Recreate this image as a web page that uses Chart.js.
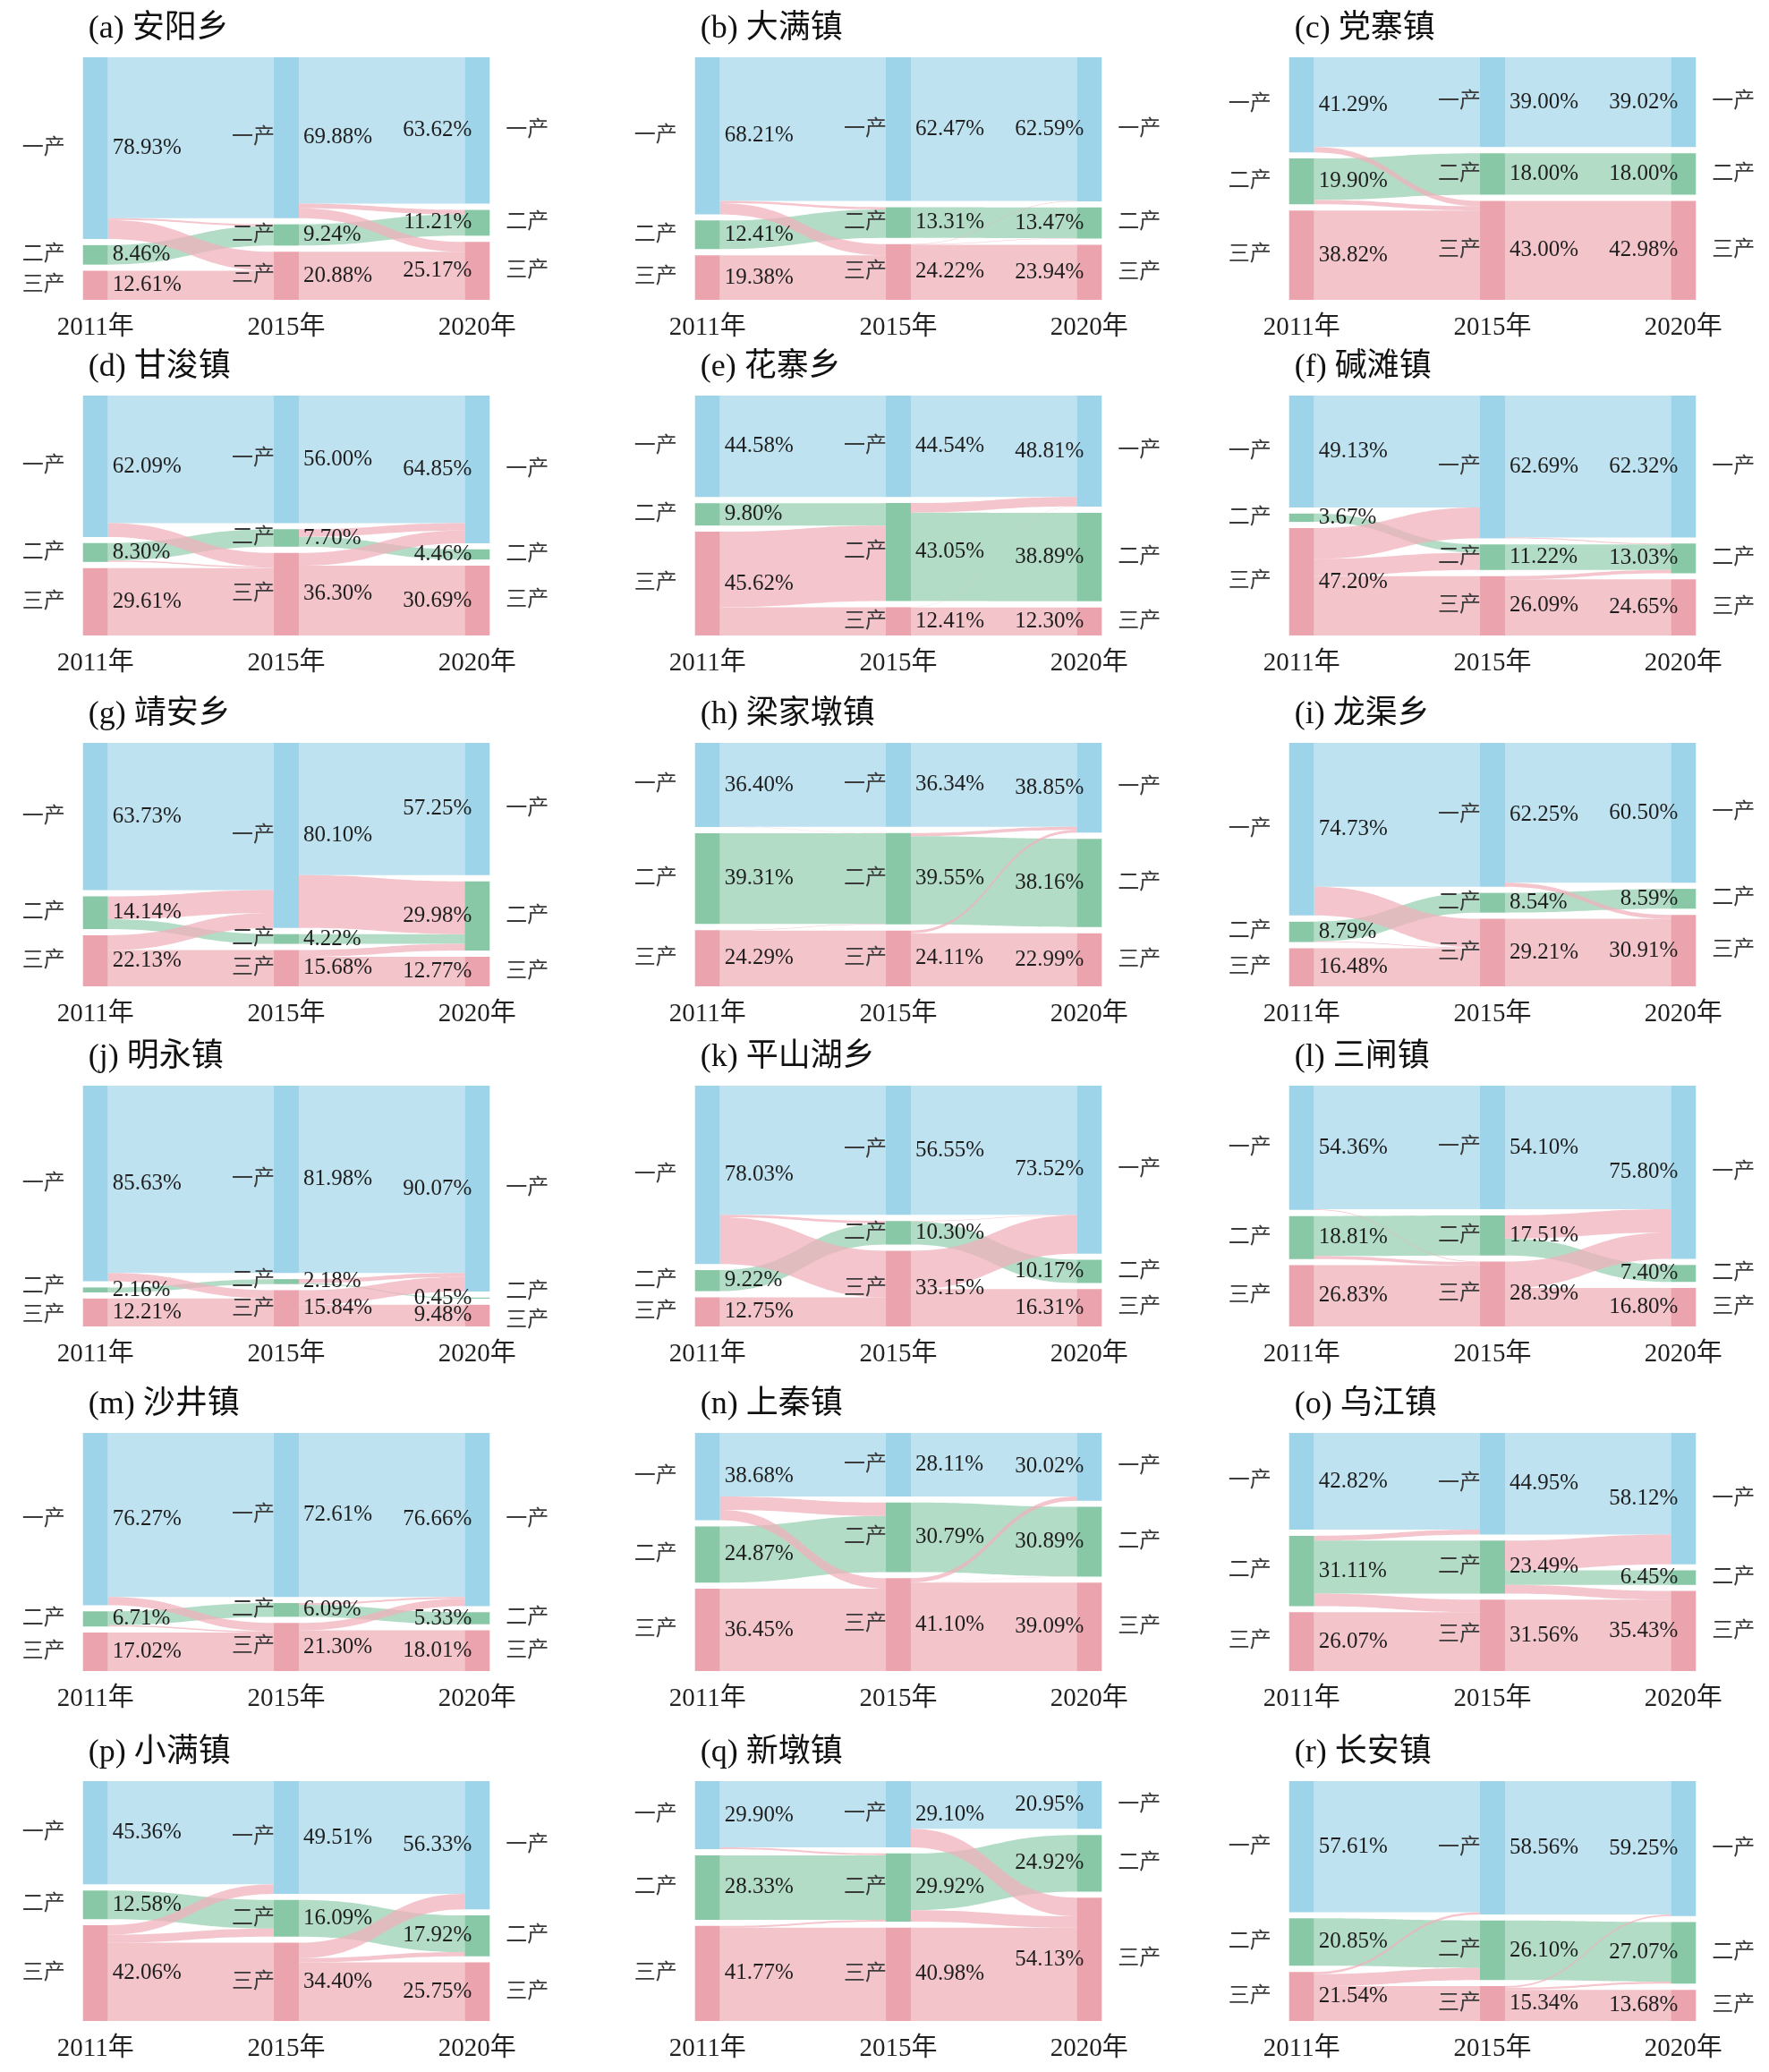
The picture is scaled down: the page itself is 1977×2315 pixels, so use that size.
<!DOCTYPE html>
<html lang="zh">
<head>
  <meta charset="UTF-8">
  <title>各乡镇三次产业结构变化</title>
  <script src="https://cdn.jsdelivr.net/npm/chart.js@4.4.1/dist/chart.umd.min.js"></script>
  <style>
    html, body { margin: 0; padding: 0; background: #fff; overflow: hidden; }
    #page { position: relative; width: 1977px; height: 2315px; }
    #page canvas { position: absolute; }
  </style>
</head>
<body>
  <div id="page"></div>
  <script>
    // ---- data ----
    const years = ['2011年', '2015年', '2020年'];
    const industries = ['一产', '二产', '三产'];
    const towns = ['(a) 安阳乡', '(b) 大满镇', '(c) 党寨镇', '(d) 甘浚镇', '(e) 花寨乡', '(f) 碱滩镇',
                   '(g) 靖安乡', '(h) 梁家墩镇', '(i) 龙渠乡', '(j) 明永镇', '(k) 平山湖乡', '(l) 三闸镇',
                   '(m) 沙井镇', '(n) 上秦镇', '(o) 乌江镇', '(p) 小满镇', '(q) 新墩镇', '(r) 长安镇'];
    // share (%) in 2011, 2015, 2020
    const primary = [
      [78.93, 69.88, 63.62], [68.21, 62.47, 62.59], [41.29, 39.00, 39.02],
      [62.09, 56.00, 64.85], [44.58, 44.54, 48.81], [49.13, 62.69, 62.32],
      [63.73, 80.10, 57.25], [36.40, 36.34, 38.85], [74.73, 62.25, 60.50],
      [85.63, 81.98, 90.07], [78.03, 56.55, 73.52], [54.36, 54.10, 75.80],
      [76.27, 72.61, 76.66], [38.68, 28.11, 30.02], [42.82, 44.95, 58.12],
      [45.36, 49.51, 56.33], [29.90, 29.10, 20.95], [57.61, 58.56, 59.25]
    ];
    const secondary = [
      [8.46, 9.24, 11.21], [12.41, 13.31, 13.47], [19.90, 18.00, 18.00],
      [8.30, 7.70, 4.46], [9.80, 43.05, 38.89], [3.67, 11.22, 13.03],
      [14.14, 4.22, 29.98], [39.31, 39.55, 38.16], [8.79, 8.54, 8.59],
      [2.16, 2.18, 0.45], [9.22, 10.30, 10.17], [18.81, 17.51, 7.40],
      [6.71, 6.09, 5.33], [24.87, 30.79, 30.89], [31.11, 23.49, 6.45],
      [12.58, 16.09, 17.92], [28.33, 29.92, 24.92], [20.85, 26.10, 27.07]
    ];
    const tertiary = [
      [12.61, 20.88, 25.17], [19.38, 24.22, 23.94], [38.82, 43.00, 42.98],
      [29.61, 36.30, 30.69], [45.62, 12.41, 12.30], [47.20, 26.09, 24.65],
      [22.13, 15.68, 12.77], [24.29, 24.11, 22.99], [16.48, 29.21, 30.91],
      [12.21, 15.84, 9.48], [12.75, 33.15, 16.31], [26.83, 28.39, 16.80],
      [17.02, 21.30, 18.01], [36.45, 41.10, 39.09], [26.07, 31.56, 35.43],
      [42.06, 34.40, 25.75], [41.77, 40.98, 54.13], [21.54, 15.34, 13.68]
    ];

    // ---- look ----
    const nodeColors = ['#9dd4ea', '#88c8a6', '#eba4ae'];
    const flowColors = ['#bee2f0', '#b2dcc6', '#f3c5cb'];
    const crossColor = 'rgba(240, 178, 188, 0.75)';
    const FONT = '"Liberation Serif", "Noto Sans CJK SC", serif';
    const GAP = 2.7;                 // space between nodes, in % units
    const TOTAL = 100 + 2 * GAP;
    const LABEL_MIN_SEP = 32;        // px between sector labels of one column

    const colLeft = [0, 684, 1348];
    const rowTop = [64, 442, 830, 1213, 1601, 1990];
    const rowH = [271, 268, 272, 269, 266, 268];
    const PANEL_W = 640, PAD_TOP = 64, AXIS_H = 52;

    function shares(k, c) {
      return [primary[k][c], secondary[k][c], tertiary[k][c]];
    }

    // stack nodes from the top, one year at a time
    function nodeRanges(vals) {
      let top = TOTAL;
      return vals.map(v => {
        const r = [top - v, top];
        top -= v + GAP;
        return r;
      });
    }

    // keep what stays in a sector, send the surplus to the sectors that grew
    function flowMatrix(a, b) {
      const f = [[0, 0, 0], [0, 0, 0], [0, 0, 0]];
      const sur = [], def = [];
      for (let i = 0; i < 3; i++) {
        f[i][i] = Math.min(a[i], b[i]);
        sur[i] = a[i] - f[i][i];
        def[i] = b[i] - f[i][i];
      }
      for (let i = 0; i < 3; i++) {
        for (let j = 0; j < 3; j++) {
          if (i === j) continue;
          const m = Math.min(sur[i], def[j]);
          if (m > 0.001) { f[i][j] = m; sur[i] -= m; def[j] -= m; }
        }
      }
      return f;
    }

    // push label centres apart when two small nodes sit close together
    function spread(ys, minSep) {
      const out = ys.slice();
      for (let pass = 0; pass < 4; pass++) {
        for (let i = 1; i < out.length; i++) {
          const d = out[i] - out[i - 1];
          if (d < minSep) {
            const push = (minSep - d) / 2;
            out[i - 1] -= push;
            out[i] += push;
          }
        }
      }
      return out;
    }

    function band(ctx, x0, x1, s0, s1, t0, t1) {
      const xm = (x0 + x1) / 2;
      ctx.beginPath();
      ctx.moveTo(x0, s0);
      ctx.bezierCurveTo(xm, s0, xm, t0, x1, t0);
      ctx.lineTo(x1, t1);
      ctx.bezierCurveTo(xm, t1, xm, s1, x0, s1);
      ctx.closePath();
      ctx.fill();
    }

    function barGeom(chart, i, c) {
      const el = chart.getDatasetMeta(i).data[c];
      return { x: el.x, left: el.x - el.width / 2, right: el.x + el.width / 2 };
    }

    const sankeyPlugin = {
      id: 'sankeyFlows',
      beforeDatasetsDraw(chart, args, opts) {
        const ctx = chart.ctx, y = chart.scales.y;
        const k = opts.town;
        ctx.save();
        for (let c = 0; c < 2; c++) {
          const a = shares(k, c), b = shares(k, c + 1);
          const na = nodeRanges(a), nb = nodeRanges(b);
          const f = flowMatrix(a, b);
          const outUsed = [0, 0, 0], inUsed = [0, 0, 0];
          const bands = [];
          for (let i = 0; i < 3; i++) {
            for (let j = 0; j < 3; j++) {
              if (f[i][j] <= 0) continue;
              const sTop = na[i][1] - outUsed[i];
              const tTop = nb[j][1] - inUsed[j];
              outUsed[i] += f[i][j];
              inUsed[j] += f[i][j];
              bands.push({ i, j, sTop, sBot: sTop - f[i][j], tTop, tBot: tTop - f[i][j] });
            }
          }
          // same-sector bands underneath, transfers on top
          bands.sort((p, q) => (p.i === p.j ? 0 : 1) - (q.i === q.j ? 0 : 1));
          bands.forEach(bd => {
            const x0 = barGeom(chart, bd.i, c).right;
            const x1 = barGeom(chart, bd.j, c + 1).left;
            ctx.fillStyle = bd.i === bd.j ? flowColors[bd.i] : crossColor;
            band(ctx, x0, x1,
              y.getPixelForValue(bd.sTop), y.getPixelForValue(bd.sBot),
              y.getPixelForValue(bd.tTop), y.getPixelForValue(bd.tBot));
          });
        }
        ctx.restore();
      },
      afterDatasetsDraw(chart, args, opts) {
        const ctx = chart.ctx, y = chart.scales.y;
        const k = opts.town;
        ctx.save();
        ctx.textBaseline = 'middle';
        for (let c = 0; c < 3; c++) {
          const vals = shares(k, c);
          const nodes = nodeRanges(vals);
          const centres = nodes.map(n => y.getPixelForValue((n[0] + n[1]) / 2));
          const labelYs = spread(centres, LABEL_MIN_SEP);
          for (let i = 0; i < 3; i++) {
            const g = barGeom(chart, i, c);
            const yc = centres[i];
            // share label
            ctx.font = '25px ' + FONT;
            ctx.fillStyle = '#1e1e1e';
            const txt = vals[i].toFixed(2) + '%';
            if (c < 2) { ctx.textAlign = 'left'; ctx.fillText(txt, g.right + 5, yc); }
            else { ctx.textAlign = 'right'; ctx.fillText(txt, g.left + 8, yc); }
            // sector label
            const yl = labelYs[i];
            ctx.font = '24px ' + FONT;
            ctx.fillStyle = '#3a3a3a';
            if (c === 0) { ctx.textAlign = 'center'; ctx.fillText(industries[i], g.x - 58, yl); }
            else if (c === 1) { ctx.textAlign = 'right'; ctx.fillText(industries[i], g.left + 1, yl); }
            else { ctx.textAlign = 'left'; ctx.fillText(industries[i], g.right + 18, yl); }
          }
        }
        // panel title
        const g0 = barGeom(chart, 0, 0);
        ctx.font = '36px ' + FONT;
        ctx.fillStyle = '#111';
        ctx.textAlign = 'left';
        ctx.fillText(towns[k], g0.left + 6, chart.chartArea.top - 31);
        ctx.restore();
      }
    };

    const page = document.getElementById('page');
    towns.forEach((name, k) => {
      const row = Math.floor(k / 3), col = k % 3;
      const canvas = document.createElement('canvas');
      canvas.width = PANEL_W;
      canvas.height = PAD_TOP + rowH[row] + AXIS_H;
      canvas.style.left = colLeft[col] + 'px';
      canvas.style.top = (rowTop[row] - PAD_TOP) + 'px';
      page.appendChild(canvas);

      const datasets = industries.map((ind, i) => ({
        label: ind,
        data: [0, 1, 2].map(c => nodeRanges(shares(k, c))[i]),
        backgroundColor: nodeColors[i],
        borderWidth: 0,
        borderSkipped: false,
        grouped: false,
        barPercentage: 0.131,
        categoryPercentage: 1
      }));

      new Chart(canvas.getContext('2d'), {
        type: 'bar',
        data: { labels: years, datasets },
        options: {
          responsive: false,
          animation: false,
          events: [],
          layout: { padding: { top: PAD_TOP, left: 0, right: 0, bottom: 0 } },
          plugins: {
            legend: { display: false },
            tooltip: { enabled: false },
            sankeyFlows: { town: k }
          },
          scales: {
            x: {
              type: 'category',
              offset: true,
              grid: { display: false, drawTicks: false },
              border: { display: false },
              ticks: { color: '#222', padding: 14, maxRotation: 0, autoSkip: false,
                       font: { family: FONT, size: 29 } },
              afterFit(scale) { scale.height = AXIS_H; }
            },
            y: { display: false, min: 0, max: TOTAL }
          }
        },
        plugins: [sankeyPlugin]
      });
    });
  </script>
</body>
</html>
